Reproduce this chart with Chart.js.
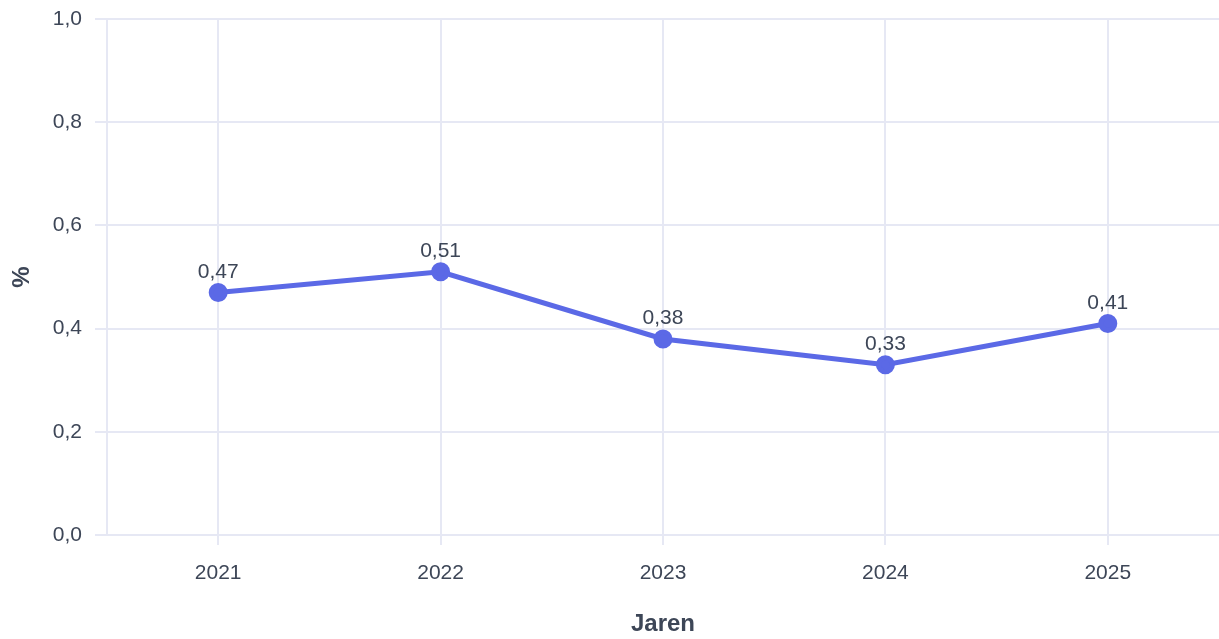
<!DOCTYPE html>
<html lang="nl">
<head>
    <meta charset="utf-8">
    <script src="https://cdn.jsdelivr.net/npm/chart.js@4.4.1/dist/chart.umd.min.js"></script>
    <style>
        html, body { margin: 0; padding: 0; background: #fff; overflow: hidden; }
        canvas { display: block; }
    </style>
</head>
<body>
<canvas id="myChart" width="1219" height="639"></canvas>
<script>
    var years = ["2021", "2022", "2023", "2024", "2025"];
    var values = [0.47, 0.51, 0.38, 0.33, 0.41];
    var yTicks = [0, 0.2, 0.4, 0.6, 0.8, 1.0];

    var textColor = "#3d4657";
    var gridColor = "#e6e8f4";
    var lineColor = "#5b69e6";

    function fmt(v, d) {
        return v.toFixed(d).replace(".", ",");
    }

    // labels boven de punten
    var valueLabels = {
        id: "valueLabels",
        afterDatasetsDraw: function (chart) {
            var ctx = chart.ctx;
            var meta = chart.getDatasetMeta(0);
            ctx.save();
            ctx.font = "21px 'Liberation Sans', Arial, sans-serif";
            ctx.fillStyle = textColor;
            ctx.textAlign = "center";
            ctx.textBaseline = "bottom";
            meta.data.forEach(function (pt, i) {
                ctx.fillText(fmt(values[i], 2), pt.x, pt.y - 10);
            });
            ctx.restore();
        }
    };

    Chart.defaults.font.family = "'Liberation Sans', Arial, sans-serif";
    Chart.defaults.font.size = 21;
    Chart.defaults.color = textColor;

    var ctx = document.getElementById("myChart").getContext("2d");
    var myChart = new Chart(ctx, {
        type: "line",
        data: {
            labels: years,
            datasets: [{
                label: "%",
                data: values,
                borderColor: lineColor,
                backgroundColor: lineColor,
                pointBackgroundColor: lineColor,
                pointBorderColor: lineColor,
                borderWidth: 5,
                pointRadius: 7,
                tension: 0,
                fill: false
            }]
        },
        options: {
            responsive: false,
            animation: false,
            layout: { autoPadding: false, padding: { top: 0, right: 0, bottom: 0, left: 8 } },
            plugins: {
                legend: { display: false },
                tooltip: { enabled: false }
            },
            scales: {
                x: {
                    offset: true,
                    afterFit: function (s) { s.paddingRight = 0; s.paddingLeft = 0; },
                    grid: {
                        offset: false,
                        color: gridColor,
                        lineWidth: 2,
                        tickLength: 10
                    },
                    border: { color: gridColor, width: 2 },
                    ticks: { padding: 16, font: { size: 21 } },
                    title: {
                        display: true,
                        text: "Jaren",
                        font: { size: 24, weight: "bold" },
                        padding: { top: 8, bottom: 0 }
                    }
                },
                y: {
                    min: 0,
                    max: 1,
                    afterFit: function (s) { s.paddingTop = 19; },
                    afterBuildTicks: function (axis) {
                        axis.ticks = yTicks.map(function (v) { return { value: v }; });
                    },
                    grid: {
                        color: gridColor,
                        lineWidth: 2,
                        tickLength: 12
                    },
                    border: { display: true, color: gridColor, width: 2 },
                    ticks: {
                        padding: 13,
                        font: { size: 21 },
                        callback: function (v) { return fmt(v, 1); }
                    },
                    title: {
                        display: true,
                        text: "%",
                        font: { size: 24, weight: "bold" },
                        padding: { top: 0, bottom: 3 }
                    }
                }
            }
        },
        plugins: [valueLabels]
    });
</script>
</body>
</html>
